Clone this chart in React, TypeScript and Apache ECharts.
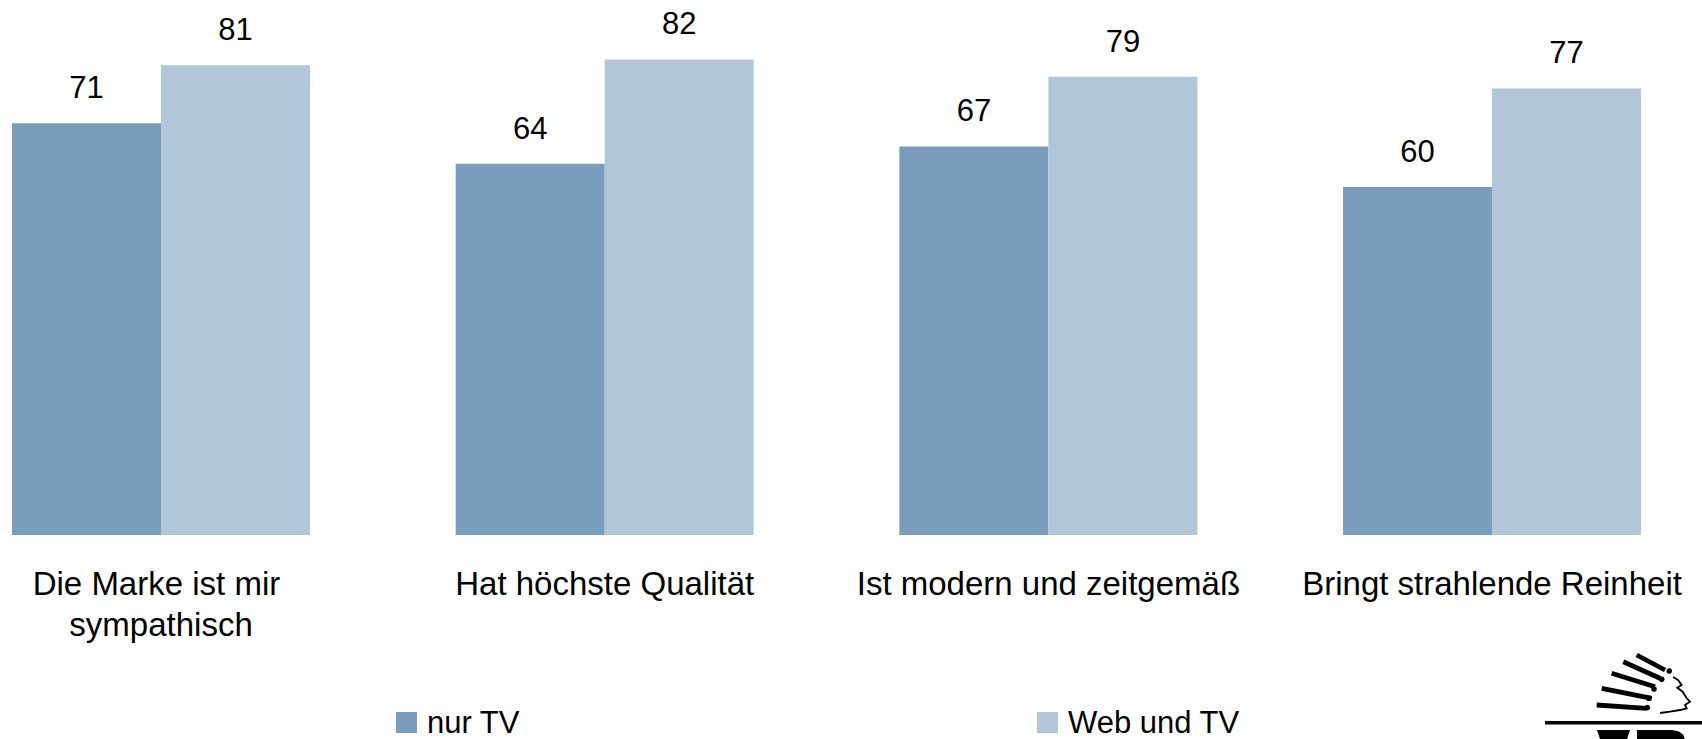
import React, { useEffect, useRef } from "react";
import * as echarts from "echarts";

const categories = [
  "Die Marke ist mir sympathisch",
  "Hat höchste Qualität",
  "Ist modern und zeitgemäß",
  "Bringt strahlende Reinheit",
];
const seriesNames = ["nur TV", "Web und TV"];
const nurTV = [71, 64, 67, 60];
const webUndTV = [81, 82, 79, 77];

const FONT = "'Liberation Sans', Arial, sans-serif";
const DARK = "#7a9cbd";
const LIGHT = "#b2c6da";
const OFF = 61; // chart canvas is shifted left by this much and clipped

function feather(x1: number, y1: number, x2: number, y2: number, t: number) {
  const dx = x2 - x1;
  const dy = y2 - y1;
  const len = Math.sqrt(dx * dx + dy * dy);
  const nx = (-dy / len) * (t / 2);
  const ny = (dx / len) * (t / 2);
  return {
    type: "polygon",
    shape: {
      points: [
        [x1 + nx + OFF, y1 + ny],
        [x2 + nx + OFF, y2 + ny],
        [x2 - nx + OFF, y2 - ny],
        [x1 - nx + OFF, y1 - ny],
      ],
    },
    style: { fill: "#000" },
    silent: true,
  };
}

const sx = (pts: number[][]) => pts.map((p) => [p[0] + OFF, p[1]]);

export default function App() {
  const ref = useRef<HTMLDivElement>(null);
  useEffect(() => {
    document.body.style.margin = "0";
    if (!ref.current) return;
    const chart = echarts.init(ref.current, undefined, { renderer: "svg" });

    const feathers = [
      [1636.7, 655, 1665, 670],
      [1623.3, 661.7, 1660, 678.3],
      [1611.7, 673.3, 1655, 686.7],
      [1601.7, 688.3, 1651.7, 698.3],
      [1596.7, 705, 1646.7, 708.3],
    ].map((f) => feather(f[0], f[1], f[2], f[3], 4.8));
    const dots = [
      [1669.3, 671],
      [1661.7, 679.3],
      [1654, 689],
      [1648.7, 698.3],
      [1647.3, 707.7],
    ].map((d) => ({
      type: "circle",
      shape: { cx: d[0] + OFF, cy: d[1], r: 2.8 },
      style: { fill: "#000" },
      silent: true,
    }));

    const legendBase = {
      top: 707,
      padding: 0,
      icon: "rect",
      itemWidth: 21,
      itemHeight: 21,
      textStyle: { fontSize: 31, fontFamily: FONT, color: "#000", padding: [0, 0, 0, 5] },
    };
    const labelStyle = {
      show: true,
      position: "top",
      distance: 20,
      fontSize: 31,
      fontFamily: FONT,
      color: "#000",
    };

    chart.setOption({
      animation: false,
      backgroundColor: "#ffffff",
      grid: { left: 0.2, top: 13, width: 1774.7, height: 522, containLabel: false },
      xAxis: {
        type: "category",
        data: categories,
        axisLine: { show: false },
        axisTick: { show: false },
        axisLabel: {
          interval: 0,
          fontSize: 33,
          fontFamily: FONT,
          color: "#000",
          lineHeight: 41,
          margin: 28,
          width: 420,
          overflow: "break",
        },
      },
      yAxis: {
        type: "value",
        min: 0,
        max: 90,
        show: false,
        splitLine: { show: false },
      },
      legend: [
        { ...legendBase, data: [seriesNames[0]], left: 396 + OFF },
        { ...legendBase, data: [seriesNames[1]], left: 1037 + OFF },
      ],
      series: [
        {
          name: seriesNames[0],
          type: "bar",
          data: nurTV,
          barGap: "0%",
          barCategoryGap: "32.83%",
          itemStyle: { color: DARK },
          label: labelStyle,
        },
        {
          name: seriesNames[1],
          type: "bar",
          data: webUndTV,
          barGap: "0%",
          barCategoryGap: "32.83%",
          itemStyle: { color: LIGHT },
          label: labelStyle,
        },
      ],
      graphic: [
        ...feathers,
        ...dots,
        {
          type: "polyline",
          shape: {
            points: sx([
              [1673, 677],
              [1678, 680],
              [1681.7, 685],
              [1677.3, 687.7],
              [1682.7, 691.7],
              [1686.7, 698.3],
              [1690, 701.7],
              [1685, 705],
              [1686.7, 708.3],
              [1680, 710],
              [1670, 711.7],
              [1660, 713],
            ]),
          },
          style: { stroke: "#000", lineWidth: 1.8, fill: "none" },
          silent: true,
        },
        {
          type: "rect",
          shape: { x: 1545 + OFF, y: 721, width: 157, height: 3.5 },
          style: { fill: "#000" },
          silent: true,
        },
        {
          type: "polygon",
          shape: {
            points: sx([
              [1597, 730],
              [1630, 730],
              [1627, 739],
              [1600, 739],
            ]),
          },
          style: { fill: "#000" },
          silent: true,
        },
        {
          type: "polygon",
          shape: {
            points: sx([
              [1637, 730],
              [1672, 730],
              [1679, 731.5],
              [1683, 734.5],
              [1685, 739],
              [1637, 739],
            ]),
          },
          style: { fill: "#000" },
          silent: true,
        },
      ],
    });
    return () => chart.dispose();
  }, []);
  return (
    <div style={{ width: 1702, height: 739, overflow: "hidden", position: "relative" }}>
      <div
        ref={ref}
        style={{ position: "absolute", left: -OFF, top: 0, width: 1702 + 2 * OFF, height: 739 }}
      />
    </div>
  );
}
